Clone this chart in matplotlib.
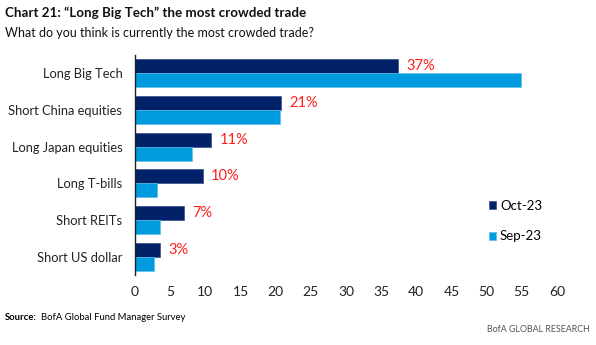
import numpy as np
import matplotlib
matplotlib.use('Agg')
import matplotlib.pyplot as plt

# data
categories = ['Long Big Tech', 'Short China equities', 'Long Japan equities',
              'Long T-bills', 'Short REITs', 'Short US dollar']
oct_23 = [37.4, 20.8, 10.8, 9.6, 6.9, 3.5]
sep_23 = [54.9, 20.6, 8.1, 3.1, 3.6, 2.7]
oct_labels = ['37%', '21%', '11%', '10%', '7%', '3%']
x_ticks = list(range(0, 61, 5))

NAVY = '#012169'
BLUE = '#009ADE'
RED = '#FF1F1F'
plt.rcParams['font.family'] = ['Lato', 'DejaVu Sans']

fig = plt.figure(figsize=(5.96, 3.45), dpi=100)
ax = fig.add_axes([0.2265, 0.203, 0.708, 0.638])

y = np.arange(len(categories))
h = 0.38
ax.barh(y - h/2, oct_23, height=h, color=NAVY, edgecolor='#3a4f8a', lw=0.5, label='Oct-23')
ax.barh(y + h/2, sep_23, height=h, color=BLUE, edgecolor='#5cc0ec', lw=0.5, label='Sep-23')
for yi, v, lab in zip(y, oct_23, oct_labels):
    ax.annotate(lab, (v, yi - h/2), xytext=(6, 0), textcoords='offset points',
                va='center', ha='left', color=RED, fontsize=10.5)

ax.set_ylim(len(categories) - 0.5, -0.5)
ax.set_xlim(0, 60)
ax.set_xticks(x_ticks)
ax.set_yticks(y)
ax.set_yticklabels(categories)
ax.tick_params(axis='both', length=0, colors='#222222')
ax.tick_params(axis='y', pad=9, labelsize=9.3)
ax.tick_params(axis='x', pad=8, labelsize=10)
for s in ['top', 'right', 'bottom']:
    ax.spines[s].set_visible(False)
ax.spines['left'].set_color('#222222')
ax.spines['left'].set_linewidth(1.0)

ax.legend(loc='upper left', bbox_to_anchor=(0.81, 0.395), frameon=False,
          fontsize=9.5, handlelength=0.55, handleheight=0.55,
          handletextpad=0.3, labelspacing=1.4)

fig.text(0.008, 0.962, 'Chart 21: \u201cLong Big Tech\u201d the most crowded trade',
         fontsize=9.6, fontweight='bold', va='center', color='#111111')
fig.text(0.008, 0.905, 'What do you think is currently the most crowded trade?',
         fontsize=9, va='center', color='#111111')
src = fig.text(0.008, 0.08, 'Source:', fontsize=6.8, fontweight='bold', va='center')
fig.canvas.draw()
bb = src.get_window_extent().transformed(fig.transFigure.inverted())
fig.text(bb.x1 + 0.008, 0.08, 'BofA Global Fund Manager Survey', fontsize=6.8, va='center')
fig.text(0.99, 0.045, 'BofA GLOBAL RESEARCH', fontsize=6.4, va='center', ha='right',
         color='#555555')

fig.savefig('out.png', dpi=100)
